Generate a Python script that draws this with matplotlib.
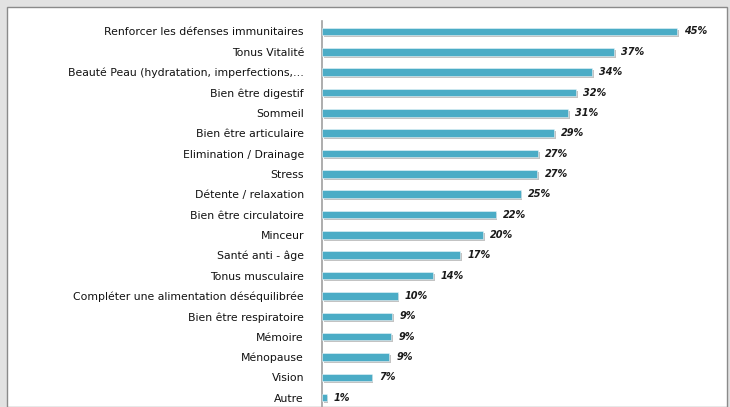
import matplotlib
matplotlib.use("Agg")
import matplotlib.pyplot as plt
from matplotlib.patches import Rectangle
import matplotlib.patheffects as pe

categories = [
    "Renforcer les défenses immunitaires",
    "Tonus Vitalité",
    "Beauté Peau (hydratation, imperfections,…",
    "Bien être digestif",
    "Sommeil",
    "Bien être articulaire",
    "Elimination / Drainage",
    "Stress",
    "Détente / relaxation",
    "Bien être circulatoire",
    "Minceur",
    "Santé anti - âge",
    "Tonus musculaire",
    "Compléter une alimentation déséquilibrée",
    "Bien être respiratoire",
    "Mémoire",
    "Ménopause",
    "Vision",
    "Autre",
]
values = [45.0, 37.0, 34.2, 32.2, 31.2, 29.4, 27.4, 27.3, 25.2, 22.0,
          20.4, 17.5, 14.1, 9.6, 8.9, 8.8, 8.5, 6.3, 0.6]
value_labels = ["45%", "37%", "34%", "32%", "31%", "29%", "27%", "27%", "25%", "22%",
                "20%", "17%", "14%", "10%", "9%", "9%", "9%", "7%", "1%"]

W, H = 730, 407
fig = plt.figure(figsize=(W / 100, H / 100), dpi=100)
fig.patch.set_facecolor("#e2e2e2")

# white panel
panel = Rectangle((7 / W, 0), (727 - 7) / W, (H - 7) / H, transform=fig.transFigure,
                  facecolor="white", edgecolor="#8a8a8a", linewidth=1.0, zorder=-5)
fig.patches.append(panel)

ax = fig.add_axes([322 / W, -0.002, (716.5 - 322) / W, 386.5 / H])
ax.set_facecolor("none")
ax.set_zorder(2)

y = list(range(len(categories)))
bars = ax.barh(y, values, height=0.37, color="#4BACC6", edgecolor="#e8f4f8",
               linewidth=0.4, zorder=3)
for b in bars:
    b.set_path_effects([pe.SimplePatchShadow(offset=(1.2, -1.4), shadow_rgbFace="#bdbdbd", alpha=0.9),
                        pe.Normal()])

for yi, v, lab in zip(y, values, value_labels):
    ax.text(v + 0.9, yi, lab, va="center", ha="left", fontsize=7,
            fontweight="bold", fontstyle="italic", color="#1a1a1a")

ax.set_xlim(0, 50)
ax.set_ylim(len(categories) - 0.5, -0.5)
ax.set_yticks(y)
ax.set_yticklabels(categories, fontsize=7.8, color="#111111")
ax.tick_params(axis="y", length=0, pad=13)
ax.set_xticks([])
for s in ["top", "right", "bottom"]:
    ax.spines[s].set_visible(False)
ax.spines["left"].set_color("#a0a0a0")
ax.spines["left"].set_linewidth(1.2)

fig.savefig("out.png", dpi=100, facecolor=fig.get_facecolor())
